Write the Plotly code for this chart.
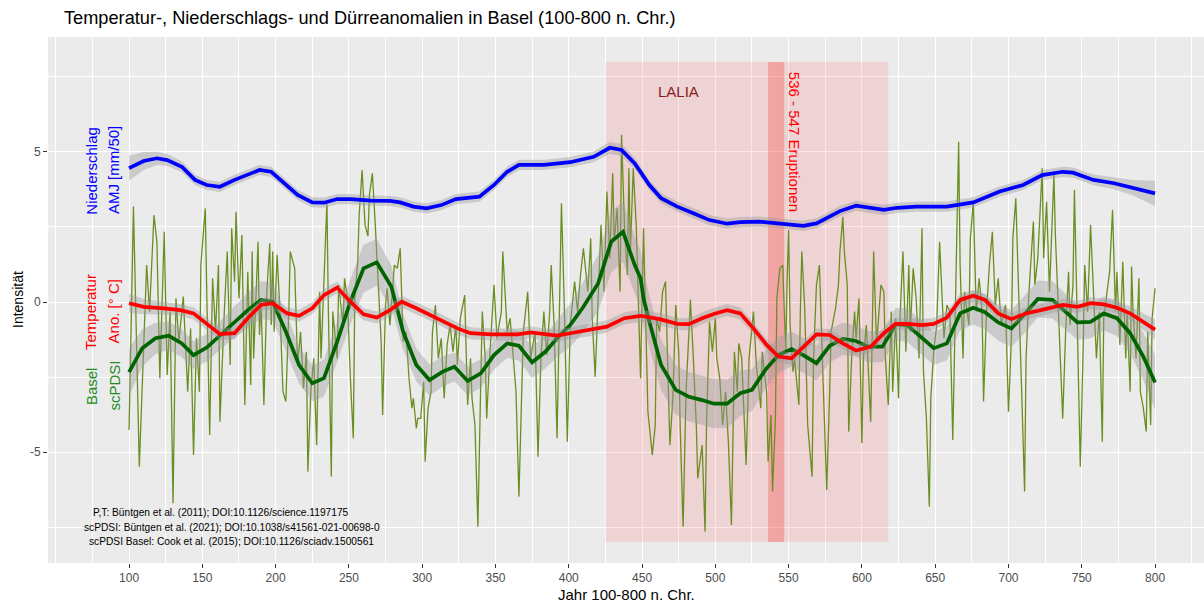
import plotly.graph_objects as go

# --- annual scPDSI Basel (raw series, turning points) ---
raw_years = [100, 103, 107, 109, 112, 114, 117, 119, 121, 124, 126, 128, 130, 132, 134, 137, 140, 142, 144, 146,
             148, 149, 152, 153, 155, 157, 159, 161, 162, 165, 167, 169, 170, 172, 173, 175, 177, 179, 181, 183,
             184, 185, 188, 189, 190, 192, 194, 196, 197, 198, 199, 201, 203, 205, 207, 209, 210, 213, 215, 217,
             219, 221, 222, 224, 226, 228, 230, 231, 233, 235, 236, 238, 239, 242, 243, 246, 247, 249, 251, 253,
             254, 256, 257, 258, 259, 261, 263, 264, 266, 268, 269, 272, 273, 275, 276, 278, 281, 283, 285, 287,
             289, 291, 293, 294, 296, 297, 299, 301, 302, 304, 306, 307, 309, 311, 313, 315, 317, 319, 321, 323,
             324, 326, 329, 331, 333, 334, 336, 337, 338, 340, 341, 343, 344, 346, 347, 349, 351, 354, 355, 357,
             358, 360, 362, 364, 366, 368, 369, 372, 374, 377, 379, 381, 383, 385, 387, 388, 390, 392, 394, 395,
             397, 399, 401, 404, 406, 408, 410, 413, 415, 416, 418, 420, 422, 424, 426, 428, 430, 431, 433, 435,
             436, 438, 440, 441, 442, 444, 446, 447, 449,
             451, 453, 454, 457, 459, 460, 462, 464, 466, 468, 469, 471, 473, 475, 476, 478, 480, 482, 483, 485,
             487, 488, 491, 493, 494, 496, 498, 500, 501, 503, 505, 507, 509, 511, 513, 515, 516, 518, 520, 521,
             523, 526, 528, 531, 532, 535, 536, 538, 539, 541, 542, 544, 546, 548, 549, 550, 551, 553, 554, 557,
             558, 559, 561, 563, 566, 567, 569, 571, 573, 575, 576, 578, 579, 582, 584, 585, 587, 588, 590, 591,
             593, 595, 596, 598, 600, 601, 603, 606, 608, 610, 611, 613, 615, 616, 618, 620, 621, 623, 625, 626,
             628, 630, 632, 633, 635, 637, 639, 641, 642, 644, 646, 647, 649, 651, 653, 656, 658, 660, 662, 664,
             666, 667, 669, 670, 673, 674, 676, 678, 680, 682, 683, 685, 687, 689, 691, 693, 695, 698, 700, 702,
             703, 705, 707, 709, 711, 712, 714, 717, 718, 720, 722, 723, 724, 726, 728, 730, 731, 732, 734, 736,
             737, 739, 741, 742, 744, 745, 747, 749, 751, 752, 754, 756, 758, 760, 762, 764, 765, 767, 769, 771,
             773, 774, 776, 778, 780, 781, 783, 784, 785, 787, 789, 790, 792, 794, 795, 797, 798, 800]
raw_scpdsi = [-4.27, 3.18, -5.49, -2.99, 1.23, -0.32, 2.90, 2.00, -2.54, 2.34, -2.43, -0.32, -6.71, 0.12, -1.32, 0.18, -2.99, -0.88, -5.10, -1.21,
              -2.99, 1.23, 3.12, 0.34, -4.43, 0.79, -0.99, 1.23, -3.99, -0.32, 1.68, -2.10, 2.46, 0.68, 3.01, 0.12, 2.23, -3.43, 1.01, -2.77,
              1.68, -1.88, 2.01, -1.10, 0.12, -3.43, 0.34, 1.96, -0.77, 1.68, -0.99, 1.57, -0.32, -2.99, -3.32, -0.32, 1.68, 1.12, -2.10, -0.99,
              -2.88, -1.66, -5.66, -2.99, -1.88, -4.77, 0.34, -1.88, 0.90, 3.34, -0.32, -5.82, -0.32, -1.88, 0.57, -0.77, 0.79, 0.12, -2.54, -4.54,
              0.12, 1.34, 2.90, 3.57, 4.40, 2.57, 2.20, 3.57, 4.29, 2.57, 1.46, -1.32, -3.77, -0.10, 0.46, -0.77, 1.23, 1.12, 1.79, -1.32,
              -0.99, -2.54, -3.54, -3.21, -4.21, -3.88, -3.88, -2.66, -5.32, -3.54, -2.99, -0.99, -0.10, -1.88, -1.21, -3.21, -1.43, -0.77, -1.66, -0.77,
              -2.10, -0.54, 0.23, -3.43, -1.88, -3.21, -4.10, -5.88, -7.49, -2.54, -0.32, -1.88, -3.88, -1.88, -0.99, 0.57, -1.21, -0.32, 1.68, -0.10,
              -0.99, -0.54, -1.88, -2.99, -6.49, -2.10, -0.99, 0.34, -1.88, -0.99, -5.16, -1.88, -0.32, -1.77, -0.32, 1.23, -0.77, -4.54, 0.34, 3.29,
              -0.21, -4.66, -0.77, 0.68, -0.32, 0.90, 1.79, 0.34, 2.12, -0.54, -2.49, 0.12, 2.57, 0.34, 3.68, 1.46, 4.29, 2.01, 3.12, 0.34,
              5.57, 2.57, 0.90, 4.46, 1.68, 4.46, 2.57, 0.90, -2.54,
              2.46, -1.88, -3.66, -5.10, -4.10, -0.54, -0.99, 0.34, 0.68, -2.99, -4.77, -3.21, -0.10, -1.66, -4.10, -7.49, -2.99, -0.99, 0.07, -1.88,
              -4.10, -5.88, -4.77, -7.66, -4.10, -0.66, -1.66, -0.54, -1.88, -2.54, -4.10, -2.99, -4.77, -7.43, -1.66, -2.99, -1.38, -1.88, -4.10, -5.43,
              -1.88, -0.32, -2.10, -3.54, -1.66, -2.99, -5.32, -3.77, -6.32, -3.88, 0.12, 1.12, 1.23, -1.66, 0.79, 2.40, -0.77, -2.32, -1.88, -3.43,
              -0.32, 1.68, -0.21, -4.10, -5.82, -1.88, 0.57, 1.23, -1.88, -5.21, -6.27, -2.99, -0.99, -0.21, 0.57, 1.68, 2.84, 1.68, 0.57, -4.32,
              -1.88, -0.32, -1.21, 0.12, -4.71, -1.88, -0.77, -3.99, 1.68, -1.43, -0.77, 0.57, 0.34, -1.88, -3.43, -0.32, -2.99, -0.54, -3.21, -0.54,
              1.68, -1.66, 1.23, -0.99, 1.12, 0.12, -1.88, 2.46, -2.32, -3.88, -6.82, -3.21, -1.66, -0.77, 2.01, -1.21, -0.10, -0.32, -4.60, 0.34,
              5.34, 1.23, -1.88, 0.34, -0.77, 2.12, 3.34, -0.32, 0.79, -0.32, -3.32, -0.32, 1.23, 2.34, -0.10, 0.79, -0.77, -0.10, -3.66, -1.21,
              2.12, 3.46, 0.57, -2.99, -6.32, -1.88, 0.34, 2.68, 0.57, 1.46, 3.46, 4.46, 1.46, 3.34, 0.34, 3.12, 4.23, 2.23, -0.32, -2.77,
              -3.88, -0.99, 1.01, -0.77, 0.57, 3.73, -0.77, -5.49, -1.43, 1.23, -0.32, 2.57, 0.34, -1.88, -0.32, -4.66, -0.54, 0.34, 1.01, 3.07,
              -0.32, 1.01, -1.43, 1.34, -1.88, -0.32, -2.99, 1.18, -0.32, -1.88, 0.79, -2.99, -3.54, -4.32, -0.99, -4.10, -0.54, 0.46]

# --- smoothed precipitation AMJ [mm/50] ---
precip_years = [100, 110, 119, 126, 136, 145, 153, 162, 172, 189, 197, 206, 215, 225, 233, 242, 251, 265, 278, 285,
                294, 303, 313, 323, 339, 349, 358, 366, 383, 401, 417, 428, 436, 445, 455, 463, 474, 485, 496, 508,
                517, 530, 544, 560, 569, 585, 596, 606, 615, 624, 637, 658, 676, 694, 710, 723, 737, 744, 758, 772,
                785, 800]
precip_vals = [4.46, 4.70, 4.79, 4.73, 4.51, 4.07, 3.90, 3.84, 4.07, 4.40, 4.34, 3.96, 3.57, 3.32, 3.31, 3.43, 3.43, 3.38, 3.37, 3.32,
               3.18, 3.12, 3.23, 3.43, 3.51, 3.90, 4.34, 4.57, 4.57, 4.66, 4.84, 5.14, 5.07, 4.62, 3.90, 3.46, 3.18, 2.96, 2.73, 2.61,
               2.66, 2.68, 2.62, 2.54, 2.62, 3.03, 3.21, 3.12, 3.07, 3.14, 3.18, 3.18, 3.32, 3.68, 3.90, 4.23, 4.34, 4.31, 4.07, 3.96,
               3.81, 3.62]
precip_se = [0.42, 0.30, 0.22, 0.20, 0.18, 0.17, 0.17, 0.17, 0.17, 0.17, 0.17, 0.17, 0.17, 0.17, 0.17, 0.17, 0.17, 0.17, 0.17, 0.17,
             0.17, 0.17, 0.17, 0.17, 0.17, 0.17, 0.17, 0.17, 0.17, 0.17, 0.18, 0.20, 0.20, 0.18, 0.17, 0.17, 0.17, 0.17, 0.17, 0.17,
             0.17, 0.17, 0.17, 0.17, 0.17, 0.17, 0.17, 0.17, 0.17, 0.17, 0.17, 0.17, 0.17, 0.17, 0.17, 0.17, 0.17, 0.17, 0.18, 0.20,
             0.26, 0.42]

# --- smoothed temperature anomaly [deg C] ---
temp_years = [100, 110, 124, 135, 144, 162, 172, 181, 190, 198, 208, 216, 225, 233, 242, 251, 260, 269, 278, 286,
              296, 306, 315, 324, 333, 347, 365, 374, 383, 392, 401, 415, 426, 438, 449, 462, 474, 482, 491, 500,
              508, 517, 526, 535, 543, 552, 560, 569, 578, 587, 596, 606, 615, 623, 631, 641, 649, 658, 667, 676,
              684, 693, 702, 712, 722, 731, 737, 747, 756, 765, 774, 783, 792, 800]
temp_vals = [-0.04, -0.16, -0.21, -0.27, -0.38, -1.07, -1.04, -0.54, -0.10, -0.04, -0.38, -0.46, -0.21, 0.23, 0.48, 0.01, -0.41, -0.52, -0.27, 0.01,
             -0.21, -0.43, -0.66, -0.88, -1.04, -1.08, -1.08, -1.01, -1.08, -1.12, -1.04, -0.93, -0.82, -0.54, -0.46, -0.57, -0.73, -0.74, -0.54, -0.38,
             -0.27, -0.38, -0.88, -1.43, -1.82, -1.88, -1.49, -1.08, -1.10, -1.38, -1.62, -1.49, -1.04, -0.73, -0.73, -0.77, -0.73, -0.52, 0.07, 0.21,
             0.07, -0.38, -0.57, -0.38, -0.27, -0.16, -0.10, -0.16, -0.04, -0.08, -0.19, -0.38, -0.66, -0.92]
temp_se = [0.32, 0.25, 0.21, 0.20, 0.20, 0.20, 0.20, 0.20, 0.20, 0.20, 0.20, 0.20, 0.20, 0.20, 0.20, 0.20, 0.20, 0.20, 0.20, 0.20,
           0.20, 0.20, 0.20, 0.20, 0.20, 0.20, 0.20, 0.20, 0.20, 0.20, 0.20, 0.20, 0.20, 0.20, 0.20, 0.20, 0.20, 0.20, 0.20, 0.20,
           0.20, 0.20, 0.20, 0.20, 0.20, 0.20, 0.20, 0.20, 0.20, 0.20, 0.20, 0.20, 0.20, 0.20, 0.20, 0.20, 0.20, 0.20, 0.20, 0.20,
           0.20, 0.20, 0.20, 0.20, 0.20, 0.20, 0.20, 0.20, 0.20, 0.20, 0.21, 0.23, 0.27, 0.34]

# --- smoothed scPDSI ---
pdsi_years = [100, 109, 118, 127, 136, 144, 153, 163, 172, 181, 190, 198, 207, 216, 225, 233, 242, 251, 260, 269,
              279, 287, 296, 305, 314, 322, 331, 340, 349, 358, 366, 375, 384, 392, 401, 410, 420, 429, 437, 445,
              449, 451, 455, 463, 473, 482, 491, 499, 508, 517, 525, 534, 543, 552, 560, 569, 578, 587, 596, 604,
              614, 623, 631, 641, 649, 658, 667, 676, 684, 693, 702, 711, 720, 730, 739, 747, 756, 765, 774, 783,
              792, 800]
pdsi_vals = [-2.34, -1.54, -1.21, -1.12, -1.38, -1.77, -1.52, -1.08, -0.66, -0.27, 0.07, 0.01, -0.99, -2.10, -2.71, -2.54, -1.32, 0.01, 1.12, 1.32,
             0.51, -0.99, -2.10, -2.60, -2.32, -2.16, -2.63, -2.38, -1.77, -1.38, -1.46, -2.01, -1.66, -1.21, -0.77, -0.16, 0.62, 2.01, 2.34, 1.23,
             0.79, 0.12, -0.66, -2.10, -2.93, -3.16, -3.27, -3.39, -3.39, -3.04, -2.93, -2.27, -1.77, -1.57, -1.77, -2.04, -1.46, -1.23, -1.30, -1.49,
             -1.49, -0.74, -0.77, -1.21, -1.54, -1.38, -0.38, -0.19, -0.34, -0.68, -0.88, -0.41, 0.10, 0.07, -0.32, -0.68, -0.66, -0.38, -0.54, -1.04,
             -1.82, -2.68]
pdsi_se = [0.80, 0.62, 0.52, 0.48, 0.46, 0.46, 0.46, 0.48, 0.52, 0.58, 0.62, 0.64, 0.64, 0.62, 0.60, 0.62, 0.68, 0.76, 0.80, 0.78,
           0.70, 0.60, 0.55, 0.52, 0.50, 0.48, 0.48, 0.48, 0.48, 0.48, 0.50, 0.52, 0.56, 0.62, 0.72, 0.84, 0.95, 1.02, 1.00, 0.95,
           0.92, 0.90, 0.88, 0.84, 0.82, 0.82, 0.82, 0.82, 0.80, 0.76, 0.70, 0.64, 0.60, 0.58, 0.58, 0.58, 0.56, 0.54, 0.52, 0.52,
           0.52, 0.54, 0.56, 0.56, 0.56, 0.56, 0.56, 0.56, 0.58, 0.60, 0.62, 0.62, 0.62, 0.62, 0.60, 0.58, 0.56, 0.56, 0.60, 0.68,
           0.80, 0.92]

x_ticks = [100, 150, 200, 250, 300, 350, 400, 450, 500, 550, 600, 650, 700, 750, 800]
x_minor = [50, 75, 125, 175, 225, 275, 325, 375, 425, 475, 525, 575, 625, 675, 725, 775, 825]
y_ticks = [-5, 0, 5]
y_minor = [-7.5, -2.5, 2.5, 7.5]

FONT = "Liberation Sans, Arial, sans-serif"
RIBBON = "rgba(153,153,153,0.4)"

fig = go.Figure()

# raw annual drought index
fig.add_trace(go.Scatter(x=raw_years, y=raw_scpdsi, mode="lines",
                         line=dict(color="#6B8E23", width=1.3), hoverinfo="skip"))


def add_smooth(xs, ys, se, color):
    upper = [v + s for v, s in zip(ys, se)]
    lower = [v - s for v, s in zip(ys, se)]
    fig.add_trace(go.Scatter(x=xs + xs[::-1], y=upper + lower[::-1], mode="lines",
                             fill="toself", fillcolor=RIBBON, line=dict(width=0),
                             hoverinfo="skip"))
    fig.add_trace(go.Scatter(x=xs, y=ys, mode="lines",
                             line=dict(color=color, width=3.7), hoverinfo="skip"))


add_smooth(precip_years, precip_vals, precip_se, "#0000FF")
add_smooth(pdsi_years, pdsi_vals, pdsi_se, "#006400")
add_smooth(temp_years, temp_vals, temp_se, "#FF0000")

# LALIA period and the 536-547 eruption window
fig.add_shape(type="rect", x0=425, x1=618, y0=-8, y1=8, xref="x", yref="y",
              fillcolor="rgba(255,0,0,0.1)", line=dict(width=0), layer="between")
fig.add_shape(type="rect", x0=536, x1=547, y0=-8, y1=8, xref="x", yref="y",
              fillcolor="rgba(255,0,0,0.22)", line=dict(width=0), layer="between")

ann = []
ann.append(dict(x=475, y=7, xref="x", yref="y", text="LALIA", showarrow=False,
                font=dict(family=FONT, size=15, color="#8B1A1A")))
ann.append(dict(x=554.5, y=5.33, xref="x", yref="y", text="536 - 547 Eruptionen", showarrow=False,
                textangle=90, font=dict(family=FONT, size=15, color="#FF0000")))

# series labels on the left
side_labels = [
    ("Niederschlag", 74.1, 4.38, "#0000FF"),
    ("AMJ [mm/50]", 89.4, 4.38, "#0000FF"),
    ("Temperatur", 74.1, -0.33, "#FF0000"),
    ("Ano. [° C]", 89.4, -0.33, "#FF0000"),
    ("Basel", 74.1, -2.8, "#228B22"),
    ("scPDSI", 89.4, -2.8, "#228B22"),
]
for txt, xv, yv, col in side_labels:
    ann.append(dict(x=xv, y=yv, xref="x", yref="y", text=txt, showarrow=False, textangle=-90,
                    font=dict(family=FONT, size=15, color=col)))

# data sources
sources = [
    ("P,T: Büntgen et al. (2011); DOI:10.1126/science.1197175", 162.4, -7.03),
    ("scPDSI: Büntgen et al. (2021); DOI:10.1038/s41561-021-00698-0", 170.0, -7.51),
    ("scPDSI Basel: Cook et al. (2015); DOI:10.1126/sciadv.1500561", 169.6, -7.98),
]
for txt, xv, yv in sources:
    ann.append(dict(x=xv, y=yv, xref="x", yref="y", text=txt, showarrow=False,
                    font=dict(family=FONT, size=10.2, color="#000000")))

# axis titles
ann.append(dict(x=0.5, y=0, xref="paper", yref="paper", yanchor="top", yshift=-21,
                text="Jahr 100-800 n. Chr.", showarrow=False,
                font=dict(family=FONT, size=15, color="#000000")))
ann.append(dict(x=0, y=0.5, xref="paper", yref="paper", xanchor="center", xshift=-30,
                text="Intensität", textangle=-90, showarrow=False,
                font=dict(family=FONT, size=14, color="#000000")))

fig.update_layout(
    width=1204, height=602,
    margin=dict(l=48, r=0, t=37, b=39),
    paper_bgcolor="white", plot_bgcolor="#EBEBEB",
    showlegend=False, hovermode=False,
    title=dict(text="Temperatur-, Niederschlags- und Dürreanomalien in Basel (100-800 n. Chr.)",
               x=64 / 1204, xanchor="left", xref="container",
               y=1 - 18 / 602, yanchor="middle", yref="container",
               font=dict(family=FONT, size=18.2, color="#000000")),
    annotations=ann,
    font=dict(family=FONT),
)
fig.update_xaxes(range=[44.7, 833.4], tickvals=x_ticks, ticktext=[str(v) for v in x_ticks],
                 showgrid=True, gridcolor="white", gridwidth=1.4, zeroline=False,
                 ticks="outside", ticklen=4, tickcolor="#333333", tickwidth=1,
                 tickfont=dict(family=FONT, size=12, color="#4D4D4D"), showline=False,
                 minor=dict(tickvals=x_minor, showgrid=True, gridcolor="white", gridwidth=0.7, ticks=""))
fig.update_yaxes(range=[-8.7, 8.833], tickvals=y_ticks, ticktext=[str(v) for v in y_ticks],
                 showgrid=True, gridcolor="white", gridwidth=1.4, zeroline=False,
                 ticks="outside", ticklen=4, tickcolor="#333333", tickwidth=1,
                 tickfont=dict(family=FONT, size=12, color="#4D4D4D"), showline=False,
                 minor=dict(tickvals=y_minor, showgrid=True, gridcolor="white", gridwidth=0.7, ticks=""))

fig.write_html("out.html")
